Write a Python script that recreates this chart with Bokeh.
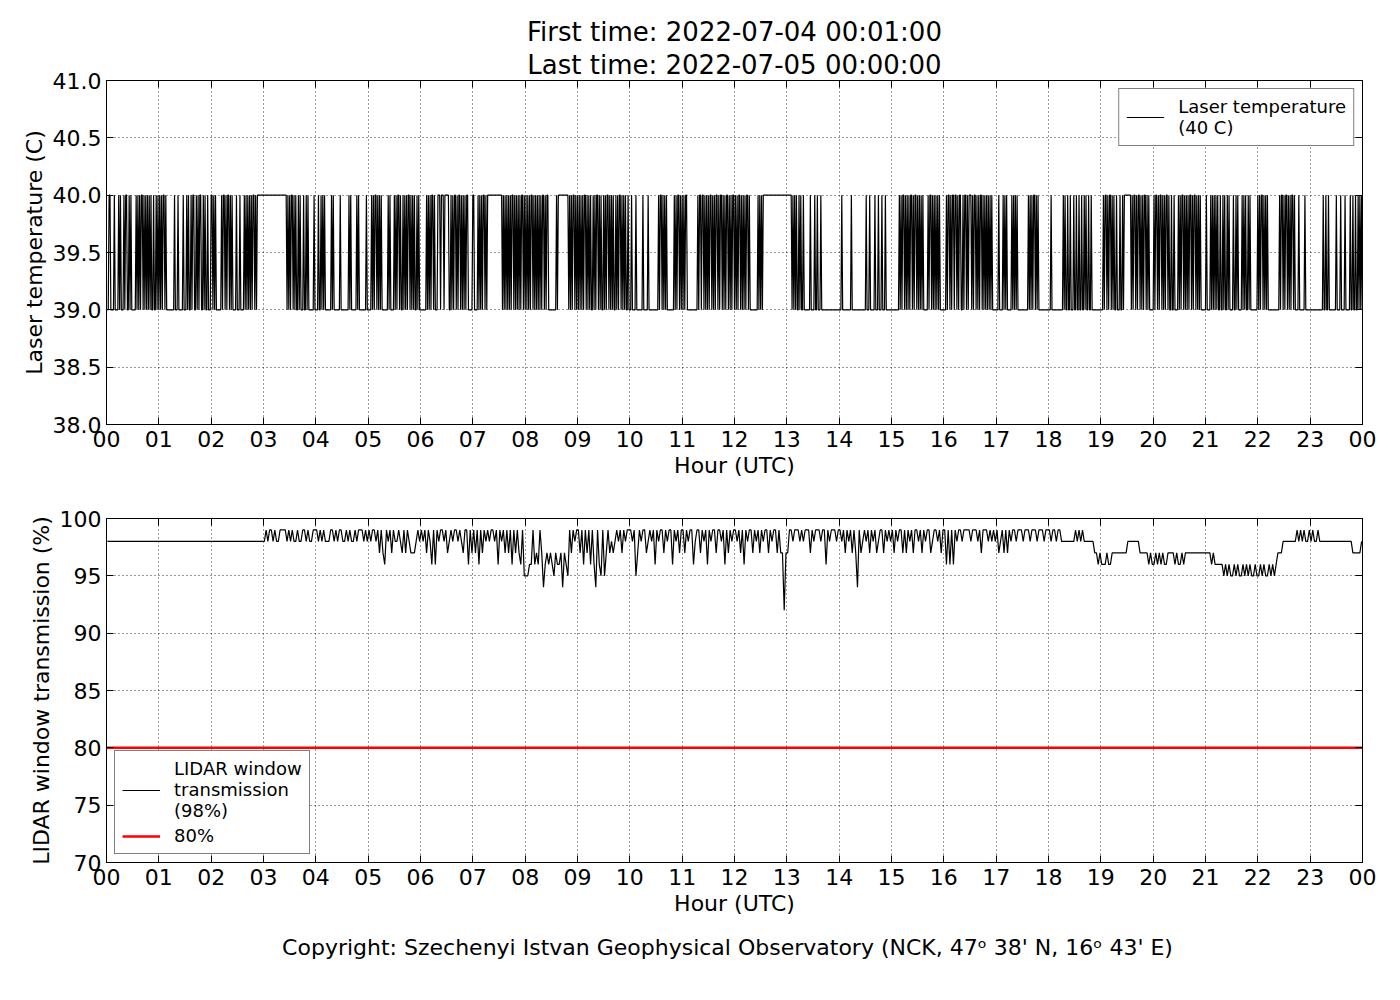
from bokeh.plotting import figure
from bokeh.models import (LinearAxis, FixedTicker, Title, Legend, LegendItem,
                          NumeralTickFormatter, Range1d, CustomJSTickFormatter)
from bokeh.layouts import column
from bokeh.embed import file_html
from bokeh.resources import INLINE

FONT = "DejaVu Sans"

# ---------------- data ----------------
first_time = "2022-07-04 00:01:00"
last_time = "2022-07-05 00:00:00"

hour_ticks = list(range(25))
hour_labels = ["%02d" % (h % 24) for h in hour_ticks]
temp_ticks = [38.0, 38.5, 39.0, 39.5, 40.0, 40.5, 41.0]
trans_ticks = [70, 75, 80, 85, 90, 95, 100]
threshold = 80

# Laser temperature, one sample per minute from 00:01; '0' = 39 C, '1' = 40 C
temp_base = 39
temp_step_min = 1
temp_hours = [
    "0011000010 0001010001 0110010100 0001010101 1010101010 1001001010",
    "1010110100 0000000100 0100000100 0101001011 0010101100 1010010001",
    "1010100000 0101101011 0101000010 0010000101 0101010110 1011111111",
    "1111111111 1111111111 1111110101 0110101001 0100010010 1000000100",
    "0010010101 0000000101 0000000100 0000000101 0000001010 0000000100",
    "0001010110 1010100000 0010100001 0101101001 0101011010 1010010100",
    "0000001010 1011010001 1101110111 1100101011 0101101010 1011000001",
    "1000010101 0110101111 1111111111 1110101010 1010110101 0101011010",
    "1010101101 0101010101 1010110000 0000010111 1111111110 1010110101",
    "0101010110 1010100101 0110101001 0101101010 1001010110 1010100100",
    "0100001000 0000100000 1000000000 0010110101 0100000000 1010110101",
    "0101100000 0000000101 1011010101 0110101011 0101101010 1101010110",
    "1010110101 0101101000 0000001010 1011111111 1111111111 1111111111",
    "1111101010 1001010010 0000001000 0100100010 0000000000 0000000000",
    "0010000000 0001000000 0000000000 1000100000 1000100010 0010000000",
    "0000000010 1011010101 0110101101 0101010000 0101101010 1010100000",
    "0010110101 1011010110 0101101011 1010110101 0110101010 1010100000",
    "0010000101 0100000101 0101000000 0000001010 1011010100 0000000000",
    "0010000000 0000001010 0100100010 0100100100 1010010010 0000000000",
    "0010110101 1010100100 0100101111 1111010110 1011010101 1010100000",
    "1011010110 1010110100 1001000010 1011010101 0110101101 0101000000",
    "1000010101 0101001001 0100101000 0100101000 0101010010 1000000001",
    "0101101010 1000000000 0000101101 0110101011 0100001000 0001000000",
    "0000000000 0000100100 1000000001 0000100001 0000010010 0100101010",
]

# LIDAR window transmission, one sample per 2 minutes; digit d = 90 + d %
trans_base = 90
trans_step_min = 2
trans_hours = [
    "8888888888 8888888888 8888888888",
    "8888888888 8888888888 8888888888",
    "8888888888 8888888888 8888888888",
    "8989989889 9998989889 8899898899",
    "9898988899 8989988989 8898999898",
    "9899897976 9897988987 9798777898",
    "9897986969 8998978989 9898799697",
    "9796979898 9989698979 7969797695",
    "5566967697 4676765766 7476597989",
    "9796979696 4965957978 7898979899",
    "9895798997 8989698997 9899698979",
    "9798996899 7989698997 9989697989",
    "9897969899 7989798997 9899797727",
    "7998999898 9997989998 9969899989",
    "9897989797 4978989798 9789979898",
    "9798997979 8979989798 9978998979",
    "9696969899 8999989998 9799989898",
    "9789797989 9899989998 9998999899",
    "9899899888 8888898989 8888887767",
    "6667667777 7777788888 8877777676",
    "6767676677 7767667677 7777777777",
    "7776766666 5656556565 5656565565",
    "5656556565 6777888888 8898989889",
    "8988988888 8888888888 8888777778",
]

temp_str = "".join(h.replace(" ", "") for h in temp_hours)
temp_vals = [temp_base + int(c) for c in temp_str]
temp_time = [(i + 1) * temp_step_min / 60.0 for i in range(len(temp_vals))]

trans_str = "".join(h.replace(" ", "") for h in trans_hours)
trans_vals = [trans_base + int(c) for c in trans_str]
trans_time = [(2 * i + 1) * trans_step_min / 2 / 60.0 for i in range(len(trans_vals))]


# ---------------- styling helpers ----------------
def style_axis(ax, labels=True):
    ax.major_tick_in = 7
    ax.major_tick_out = 0
    ax.minor_tick_in = 0
    ax.minor_tick_out = 0
    ax.major_tick_line_color = "black"
    ax.major_tick_line_width = 1
    ax.axis_line_color = "black"
    ax.major_label_text_font = FONT
    ax.major_label_text_font_size = "22px"
    ax.major_label_text_color = "black"
    ax.major_label_standoff = 6
    ax.axis_label_text_font = FONT
    ax.axis_label_text_font_size = "22px"
    ax.axis_label_text_font_style = "normal"
    ax.axis_label_text_color = "black"
    ax.axis_label_standoff = 3
    if not labels:
        ax.formatter = CustomJSTickFormatter(code="return ''")
        ax.major_label_standoff = 0


def make_fig(height, top, bottom, yticks, ylabel, yfmt):
    p = figure(width=1392, height=height, output_backend="svg", toolbar_location=None,
               x_range=Range1d(hour_ticks[0], hour_ticks[-1]), y_range=Range1d(yticks[0], yticks[-1]),
               min_border_left=106, min_border_right=30, min_border_top=top,
               min_border_bottom=bottom)
    p.outline_line_color = "black"
    p.outline_line_width = 1
    p.background_fill_color = "white"
    p.border_fill_color = "white"
    p.xaxis.ticker = FixedTicker(ticks=hour_ticks)
    p.xaxis.major_label_overrides = {h: lab for h, lab in zip(hour_ticks, hour_labels)}
    p.xaxis.axis_label = "Hour (UTC)"
    p.yaxis.ticker = FixedTicker(ticks=yticks)
    p.yaxis.formatter = NumeralTickFormatter(format=yfmt)
    p.yaxis.axis_label = ylabel
    style_axis(p.xaxis[0])
    style_axis(p.yaxis[0])
    p.yaxis[0].major_label_standoff = 5
    top_ax = LinearAxis(ticker=FixedTicker(ticks=hour_ticks))
    right_ax = LinearAxis(ticker=FixedTicker(ticks=yticks))
    style_axis(top_ax, labels=False)
    style_axis(right_ax, labels=False)
    p.add_layout(top_ax, "above")
    p.add_layout(right_ax, "right")
    p.grid.grid_line_color = "black"
    p.grid.grid_line_dash = "1 3"
    p.grid.grid_line_width = 1
    p.grid.grid_line_alpha = 0.8
    return p


def style_legend(lg):
    lg.border_line_color = "black"
    lg.border_line_width = 1
    lg.background_fill_color = "white"
    lg.background_fill_alpha = 1
    lg.label_text_font = FONT
    lg.label_text_font_size = "18px"
    lg.label_text_color = "black"
    lg.glyph_width = 38
    lg.label_standoff = 14
    lg.padding = 7
    lg.spacing = 4


# ---------------- top figure ----------------
p1 = make_fig(488, 80, 64, temp_ticks, "Laser temperature (C)", "0.0")
r_temp = p1.line(temp_time, temp_vals, line_color="black", line_width=1.2)
lg1 = Legend(items=[LegendItem(label="Laser temperature\n(40 C)", renderers=[r_temp])],
             location="top_right", margin=8)
style_legend(lg1)
p1.add_layout(lg1)
p1.add_layout(Title(text="Last time: " + last_time, align="center", text_font=FONT,
                    text_font_size="26px", text_font_style="normal", text_color="black",
                    standoff=2), "above")
p1.add_layout(Title(text="First time: " + first_time, align="center", text_font=FONT,
                    text_font_size="26px", text_font_style="normal", text_color="black",
                    standoff=0), "above")

# ---------------- bottom figure ----------------
p2 = make_fig(487, 30, 113, trans_ticks, "LIDAR window transmission (%)", "0")
r_trans = p2.line(trans_time, trans_vals, line_color="black", line_width=1.2)
r_thr = p2.line([hour_ticks[0], hour_ticks[-1]], [threshold, threshold], line_color="red",
                line_width=2.5)
lg2 = Legend(items=[LegendItem(label="LIDAR window\ntransmission\n(98%)", renderers=[r_trans]),
                    LegendItem(label="%d%%" % threshold, renderers=[r_thr])],
             location="bottom_left", margin=8)
style_legend(lg2)
p2.add_layout(lg2)
p2.add_layout(Title(text="Copyright: Szechenyi Istvan Geophysical Observatory (NCK, 47\u1d52  38' N, 16\u1d52  43' E)",
                    align="center", text_font=FONT, text_font_size="22px",
                    text_font_style="normal", text_color="black", standoff=29), "below")

layout = column(p1, p2, spacing=0)
open("out.html", "w").write(file_html(layout, INLINE))
